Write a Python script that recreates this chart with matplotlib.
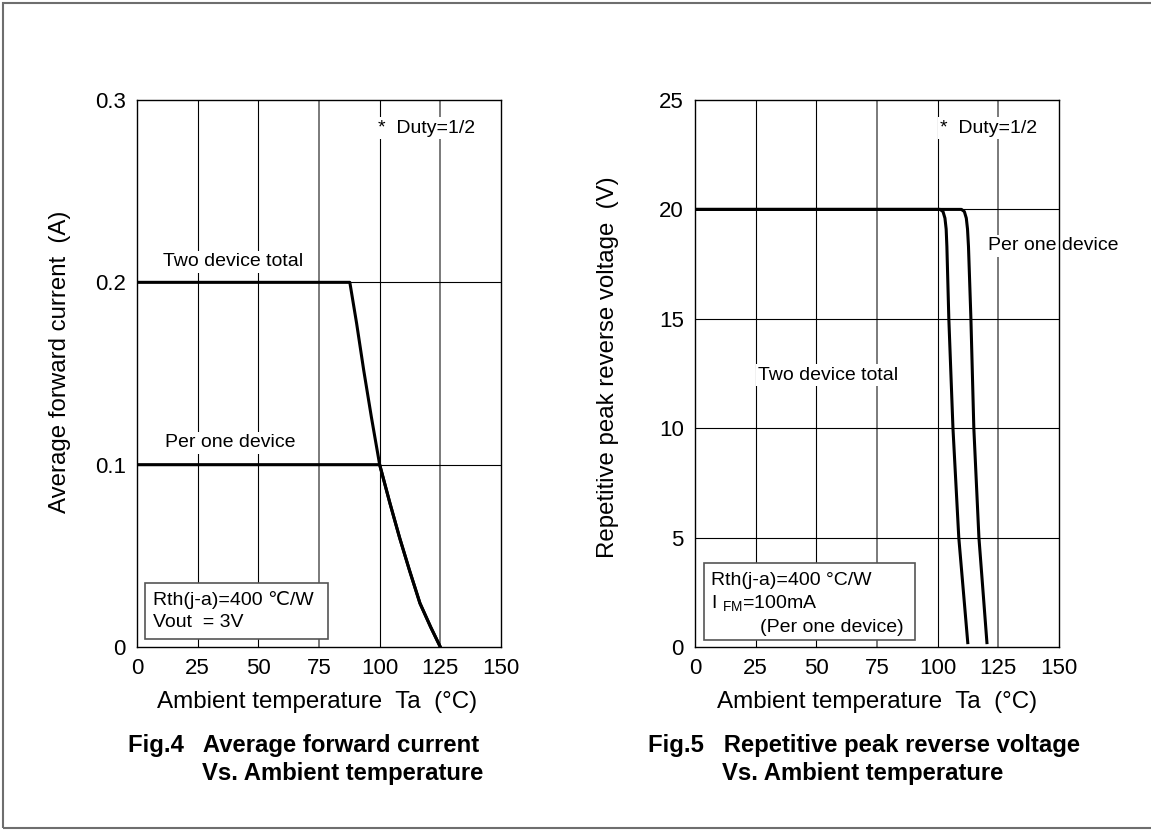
import matplotlib
matplotlib.use('Agg')
import matplotlib.pyplot as plt
from matplotlib.patches import Rectangle

plt.rcParams['font.family'] = ['Liberation Sans', 'DejaVu Sans']
plt.rcParams['mathtext.fontset'] = 'custom'
plt.rcParams['mathtext.rm'] = 'Liberation Sans'

# Fig.4 data: average forward current vs ambient temperature
temp_ticks = [0, 25, 50, 75, 100, 125, 150]
current_ticks = [0, 0.1, 0.2, 0.3]
two_dev_temp = [0, 87.7, 90.5, 93.4, 96.6, 100, 104.2, 108.2, 112.3, 116.6, 121.0, 125]
two_dev_current = [0.2, 0.2, 0.1775, 0.152, 0.126, 0.1, 0.079, 0.06, 0.042, 0.024, 0.011, 0]
one_dev_temp = [0, 100, 104.2, 108.2, 112.3, 116.6, 121.0, 125]
one_dev_current = [0.1, 0.1, 0.079, 0.06, 0.042, 0.024, 0.011, 0]

# Fig.5 data: repetitive peak reverse voltage vs ambient temperature
voltage_ticks = [0, 5, 10, 15, 20, 25]
vr_two_temp = [0, 101, 102.2, 103.0, 103.5, 103.8, 104.6, 106.3, 108.7, 112.4]
vr_one_temp = [0, 109.8, 111.0, 111.8, 112.3, 112.7, 113.7, 114.9, 117, 120.3]
vr_volts = [20, 20, 19.9, 19.6, 19.1, 18.3, 15, 10, 5, 0.2]

fig = plt.figure(figsize=(11.51, 8.30), dpi=100)
W, H = 1151, 830

# outer frame (right edge runs off the picture)
fig.patches.append(Rectangle((3 / W, 2 / H), 1.2, 825 / H, transform=fig.transFigure,
                             fill=False, edgecolor='#6e6e6e', lw=1.5))


def make_axes(x0, yticks, ylim):
    ax = fig.add_axes([x0 / W, (H - 647) / H, 364 / W, 547 / H])
    ax.set_xlim(0, 150)
    ax.set_ylim(*ylim)
    ax.set_xticks(temp_ticks)
    ax.set_yticks(yticks)
    ax.tick_params(length=0, labelsize=16, pad=8)
    for s in ax.spines.values():
        s.set_linewidth(1.0)
    gray_cols = [75, 125]
    for t in temp_ticks[1:-1]:
        ax.axvline(t, color='#7a7a7a' if t in gray_cols else 'black',
                   lw=1.4 if t in gray_cols else 0.8, zorder=1)
    for v in yticks[1:-1]:
        ax.axhline(v, color='black', lw=0.8, zorder=1)
    return ax


white = dict(facecolor='white', edgecolor='none', pad=1.5)

# ---- Fig.4 ----
ax1 = make_axes(137, current_ticks, (0, 0.3))
ax1.set_yticklabels(['0', '0.1', '0.2', '0.3'])
ax1.plot(two_dev_temp, two_dev_current, color='black', lw=2.2, zorder=3, solid_joinstyle='round')
ax1.plot(one_dev_temp, one_dev_current, color='black', lw=2.2, zorder=3, solid_joinstyle='round')
ax1.text(99.3, 0.2846, '*  Duty=1/2', fontsize=14, va='center', bbox=white, zorder=2)
ax1.text(10.7, 0.2112, 'Two device total', fontsize=14, va='center', bbox=white, zorder=2)
ax1.text(11.5, 0.1119, 'Per one device', fontsize=14, va='center', bbox=white, zorder=2)
ax1.add_patch(Rectangle((3.3, 0.0044), 75.4, 0.0307, facecolor='white',
                        edgecolor='#555555', lw=1.2, zorder=4))
ax1.text(6.6, 0.0258, 'Rth(j-a)=400 \u2103/W', fontsize=14, va='center', zorder=5)
ax1.text(6.6, 0.0132, 'Vout  = 3V', fontsize=14, va='center', zorder=5)

# ---- Fig.5 ----
ax2 = make_axes(695, voltage_ticks, (0, 25))
ax2.plot(vr_two_temp, vr_volts, color='black', lw=2.2, zorder=3, solid_joinstyle='round')
ax2.plot(vr_one_temp, vr_volts, color='black', lw=2.2, zorder=3, solid_joinstyle='round')
ax2.text(101, 23.72, '*  Duty=1/2', fontsize=14, va='center', bbox=white, zorder=2)
ax2.text(120.7, 18.33, 'Per one device', fontsize=14, va='center', bbox=white,
         zorder=2, clip_on=False)
ax2.text(26, 12.43, 'Two device total', fontsize=14, va='center', bbox=white, zorder=2)
ax2.add_patch(Rectangle((3.7, 0.32), 87.0, 3.52, facecolor='white',
                        edgecolor='#555555', lw=1.2, zorder=4))
ax2.text(6.6, 3.06, 'Rth(j-a)=400 \u00b0C/W', fontsize=14, va='center', zorder=5)
ax2.text(6.6, 1.97, r'I $_{\mathrm{FM}}$=100mA', fontsize=14, va='center', zorder=5)
ax2.text(26.8, 0.91, '(Per one device)', fontsize=14, va='center', zorder=5)

# axis labels
fig.text(60 / W, (H - 362) / H, 'Average forward current  (A)', rotation=90,
         fontsize=17.3, ha='center', va='center')
fig.text(608 / W, (H - 367) / H, 'Repetitive peak reverse voltage  (V)', rotation=90,
         fontsize=17.3, ha='center', va='center')
fig.text(317 / W, (H - 702) / H, 'Ambient temperature  Ta  (\u00b0C)',
         fontsize=17.4, ha='center', va='center')
fig.text(877 / W, (H - 702) / H, 'Ambient temperature  Ta  (\u00b0C)',
         fontsize=17.4, ha='center', va='center')

# captions
fig.text(128 / W, (H - 745) / H, 'Fig.4   Average forward current',
         fontsize=17.2, fontweight='bold', va='center')
fig.text(202 / W, (H - 773) / H, 'Vs. Ambient temperature',
         fontsize=17.2, fontweight='bold', va='center')
fig.text(648 / W, (H - 745) / H, 'Fig.5   Repetitive peak reverse voltage',
         fontsize=17.2, fontweight='bold', va='center')
fig.text(722 / W, (H - 773) / H, 'Vs. Ambient temperature',
         fontsize=17.2, fontweight='bold', va='center')

fig.savefig('out.png', dpi=100)
